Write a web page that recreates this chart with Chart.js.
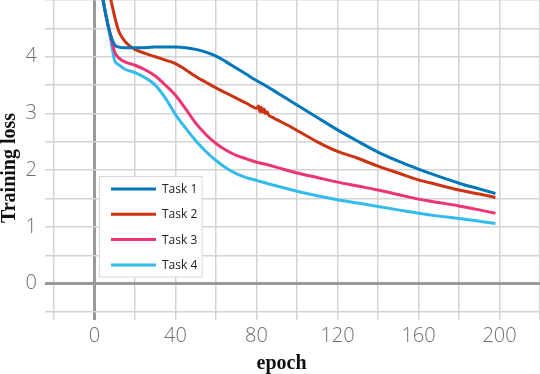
<!DOCTYPE html>
<html>
<head>
<meta charset="utf-8">
<script src="https://cdn.jsdelivr.net/npm/chart.js@4/dist/chart.umd.min.js"></script>
<style>
  html, body { margin: 0; padding: 0; background: #fff; }
  canvas { display: block; }
</style>
</head>
<body>
<canvas id="lossChart" width="540" height="374"></canvas>
<script>
// Data
const seriesLabels = ['Task 1', 'Task 2', 'Task 3', 'Task 4'];
const seriesColors = ['#0077BB', '#CC3311', '#EE3377', '#33BBEE'];

// shared epochs for tasks 1, 3, 4
const epochs = [2, 4, 6, 8, 10, 12, 15, 20, 25, 30, 35, 40, 45, 50, 55, 60, 65, 70, 75, 80, 85, 90,
  100, 110, 120, 130, 140, 150, 160, 170, 180, 190, 198];
const task1Loss = [5.6, 5.05, 4.67, 4.38, 4.21, 4.17, 4.16, 4.16, 4.16, 4.17, 4.17, 4.17, 4.16, 4.13, 4.08, 4.01, 3.91, 3.8, 3.69, 3.58, 3.48, 3.37,
  3.15, 2.93, 2.71, 2.51, 2.32, 2.16, 2.02, 1.89, 1.77, 1.67, 1.59];
const task3Loss = [5.6, 5.05, 4.67, 4.36, 4.08, 3.98, 3.91, 3.85, 3.77, 3.66, 3.5, 3.32, 3.08, 2.83, 2.63, 2.47, 2.35, 2.26, 2.2, 2.14, 2.1, 2.05,
  1.95, 1.87, 1.79, 1.72, 1.65, 1.57, 1.49, 1.43, 1.37, 1.3, 1.24];
const task4Loss = [5.6, 5.05, 4.67, 4.3, 3.93, 3.86, 3.78, 3.72, 3.63, 3.5, 3.27, 2.98, 2.74, 2.52, 2.33, 2.17, 2.04, 1.94, 1.87, 1.82, 1.77, 1.72,
  1.63, 1.55, 1.48, 1.42, 1.36, 1.3, 1.24, 1.19, 1.15, 1.1, 1.06];

// task 2 has its own epochs (noisy bit around epoch 80-86)
const task2Epochs = [2, 5, 8, 10, 12, 14, 17, 20, 25, 30, 35, 40, 45, 50, 55, 60, 65, 70, 75, 78,
  80, 81, 81.7, 82.4, 83, 83.7, 84.4, 85.2, 86, 88, 90,
  95, 100, 110, 120, 130, 140, 150, 160, 170, 180, 190, 198];
const task2Loss = [6.5, 5.6, 5.02, 4.7, 4.45, 4.32, 4.2, 4.13, 4.06, 4.0, 3.94, 3.88, 3.77, 3.65, 3.55, 3.45, 3.36, 3.27, 3.18, 3.12,
  3.09, 3.13, 3.03, 3.11, 3.02, 3.08, 3.0, 3.03, 2.97, 2.93, 2.89,
  2.8, 2.7, 2.5, 2.33, 2.21, 2.07, 1.95, 1.83, 1.74, 1.65, 1.58, 1.52];

const xTicksShown = [0, 40, 80, 120, 160, 200];
const yTicksShown = [0, 1, 2, 3, 4];

function toPoints(xs, ys) {
  return xs.map((x, i) => ({ x: x, y: ys[i] }));
}

const seriesPoints = [
  toPoints(epochs, task1Loss),
  toPoints(task2Epochs, task2Loss),
  toPoints(epochs, task3Loss),
  toPoints(epochs, task4Loss)
];

const gridColor = ctx => (ctx.tick && ctx.tick.value === 0) ? '#999999' : '#d3d3d3';
const gridWidth = ctx => (ctx.tick && ctx.tick.value === 0) ? 3 : 1.5;

// no extra label padding around the plot: it fills the canvas top and right
function noPad(s) {
  s.paddingTop = 0;
  s.paddingBottom = 0;
  s.paddingLeft = 0;
  s.paddingRight = 0;
}

// legend box inside the plot + axis titles
const extrasPlugin = {
  id: 'extras',
  afterDatasetsDraw(chart) {
    const c = chart.ctx;
    c.save();
    // legend
    const bx = 99.5, by = 176.5, bw = 102.5, bh = 100.5;
    c.fillStyle = '#fff';
    c.fillRect(bx, by, bw, bh);
    c.strokeStyle = '#d9d9d9';
    c.lineWidth = 1;
    c.strokeRect(bx, by, bw, bh);
    c.font = '12px "Open Sans"';
    c.textBaseline = 'middle';
    chart.data.datasets.forEach((ds, i) => {
      const y = 189 + i * 25.3;
      c.strokeStyle = ds.borderColor;
      c.lineWidth = 3;
      c.beginPath();
      c.moveTo(111, y);
      c.lineTo(156, y);
      c.stroke();
      c.fillStyle = '#222';
      c.fillText(ds.label, 162, y + 0.5);
    });
    // axis titles
    c.fillStyle = '#111';
    c.font = 'bold 20px "Liberation Serif"';
    c.textAlign = 'center';
    c.textBaseline = 'alphabetic';
    c.fillText('epoch', 281.5, 369);
    c.translate(14.5, 168);
    c.rotate(-Math.PI / 2);
    c.fillText('Training loss', 0, 0);
    c.restore();
  }
};

const chart = new Chart(document.getElementById('lossChart').getContext('2d'), {
  type: 'line',
  data: {
    datasets: seriesLabels.map((label, i) => ({
      label: label,
      data: seriesPoints[i],
      borderColor: seriesColors[i],
      backgroundColor: seriesColors[i],
      borderWidth: 3,
      pointRadius: 0,
      cubicInterpolationMode: 'monotone',
      fill: false
    }))
  },
  options: {
    responsive: false,
    animation: false,
    devicePixelRatio: 1,
    layout: { padding: 0 },
    plugins: {
      legend: { display: false },
      tooltip: { enabled: false }
    },
    scales: {
      x: {
        type: 'linear',
        min: -20,
        max: 220,
        afterFit: s => { s.height = 62; noPad(s); },
        border: { display: false },
        grid: { color: gridColor, lineWidth: gridWidth, tickLength: 8 },
        ticks: {
          stepSize: 20,
          autoSkip: false,
          maxRotation: 0,
          padding: 4,
          color: '#707070',
          font: { family: '"Open Sans"', size: 20, weight: '300' },
          callback: v => xTicksShown.includes(v) ? String(v) : ''
        }
      },
      y: {
        min: -0.5,
        max: 5,
        afterFit: s => { s.width = 54; noPad(s); },
        border: { display: false },
        grid: { color: gridColor, lineWidth: gridWidth, tickLength: 9 },
        ticks: {
          stepSize: 0.5,
          autoSkip: false,
          padding: 8,
          color: '#707070',
          font: { family: '"Open Sans"', size: 20, weight: '300' },
          callback: v => yTicksShown.includes(v) ? String(v) : ''
        }
      }
    }
  },
  plugins: [extrasPlugin]
});
</script>
</body>
</html>
